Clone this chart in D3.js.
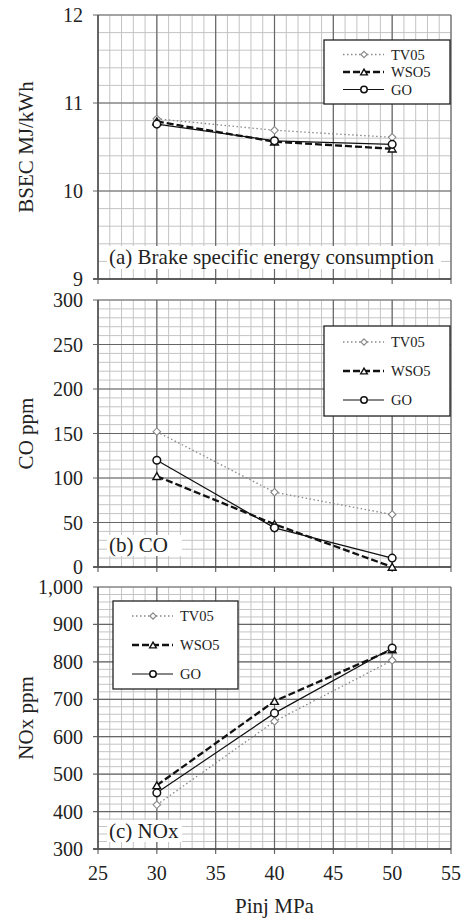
<!DOCTYPE html>
<head>
	<script src="https://d3js.org/d3.v7.min.js"></script>
	<style>
		body { margin: 0; background: #fff; }
	</style>
</head>
<body>
<svg></svg>
<script>
	// data
	var pinj = [30, 40, 50];
	var seriesNames = ["TV05", "WSO5", "GO"];

	var bsecTV05 = [10.82, 10.69, 10.61];
	var bsecWSO5 = [10.79, 10.56, 10.48];
	var bsecGO   = [10.76, 10.57, 10.53];

	var coTV05 = [152, 84, 59];
	var coWSO5 = [102, 48, 0];
	var coGO   = [120, 44, 10];

	var noxTV05 = [418, 641, 804];
	var noxWSO5 = [470, 695, 833];
	var noxGO   = [450, 663, 837];

	var xTicks = [25, 30, 35, 40, 45, 50, 55];
	var bsecTicks = [9, 10, 11, 12];
	var coTicks = [0, 50, 100, 150, 200, 250, 300];
	var noxTicks = [300, 400, 500, 600, 700, 800, 900, 1000];

	var width = 462, height = 921;
	var font = "'Liberation Serif'";
	var svg = d3.select("svg").attr("width", width).attr("height", height);

	var x = d3.scaleLinear().domain([25, 55]).range([98, 451]);

	var styles = {
		TV05: { stroke: "#888", width: 1.3, dash: "1.5,2.5", marker: "diamond" },
		WSO5: { stroke: "#111", width: 2.3, dash: "7,3", marker: "triangle" },
		GO:   { stroke: "#111", width: 1.2, dash: null, marker: "circle" }
	};

	var panels = [
		{ ticks: bsecTicks, minor: 0.2, range: [279, 15], title: "BSEC MJ/kWh", fmt: d3.format("d"),
		  data: [bsecTV05, bsecWSO5, bsecGO], tag: "(a) Brake specific energy consumption",
		  tagBox: [107, 246, 334, 23], legend: [324, 40, 126, 64], rowH: 17.5 },
		{ ticks: coTicks, minor: 10, range: [567, 300], title: "CO ppm", fmt: d3.format("d"),
		  data: [coTV05, coWSO5, coGO], tag: "(b) CO",
		  tagBox: [107, 535, 75, 21], legend: [324, 326, 126, 90], rowH: 29 },
		{ ticks: noxTicks, minor: 20, range: [849, 587], title: "NOx ppm", fmt: d3.format(","),
		  data: [noxTV05, noxWSO5, noxGO], tag: "(c) NOx",
		  tagBox: [107, 820, 75, 22], legend: [113, 601, 125, 88], rowH: 29 }
	];

	function label(g, size) {
		return g.append("text").attr("font-family", font).attr("font-size", size).attr("fill", "#222");
	}

	function marker(g, type, cx, cy, color, k) {
		k = k || 1;
		if (type === "diamond") {
			g.append("path").attr("d", d3.symbol().type(d3.symbolDiamond2).size(36 * k * k)())
				.attr("transform", "translate(" + cx + "," + cy + ")")
				.attr("fill", "#fff").attr("stroke", color).attr("stroke-width", 1.1);
		} else if (type === "triangle") {
			g.append("path").attr("d", d3.symbol().type(d3.symbolTriangle2).size(44 * k * k)())
				.attr("transform", "translate(" + cx + "," + (cy + 1) + ")")
				.attr("fill", "#fff").attr("stroke", color).attr("stroke-width", 1.4);
		} else {
			g.append("circle").attr("cx", cx).attr("cy", cy).attr("r", 3.8 * k)
				.attr("fill", "#fff").attr("stroke", color).attr("stroke-width", 1.5);
		}
	}

	panels.forEach(function(p) {
		var lo = p.ticks[0], hi = p.ticks[p.ticks.length - 1];
		var y = d3.scaleLinear().domain([lo, hi]).range(p.range);
		var g = svg.append("g");

		// minor grid
		var minorY = d3.range(lo, hi + p.minor / 2, p.minor);
		g.selectAll(".mh").data(minorY).enter().append("line")
			.attr("x1", x(25)).attr("x2", x(55))
			.attr("y1", function(d) { return y(d); }).attr("y2", function(d) { return y(d); })
			.attr("stroke", "#c4c4c4").attr("stroke-width", 1);
		g.selectAll(".mv").data(d3.range(25, 56, 1)).enter().append("line")
			.attr("x1", function(d) { return x(d); }).attr("x2", function(d) { return x(d); })
			.attr("y1", p.range[0]).attr("y2", p.range[1])
			.attr("stroke", "#c4c4c4").attr("stroke-width", 1);

		// major grid
		g.selectAll(".Mh").data(p.ticks).enter().append("line")
			.attr("x1", x(25) - 5).attr("x2", x(55))
			.attr("y1", function(d) { return y(d); }).attr("y2", function(d) { return y(d); })
			.attr("stroke", "#666").attr("stroke-width", 1.2);
		g.selectAll(".Mv").data(xTicks).enter().append("line")
			.attr("x1", function(d) { return x(d); }).attr("x2", function(d) { return x(d); })
			.attr("y1", p.range[0] + 5).attr("y2", p.range[1])
			.attr("stroke", "#666").attr("stroke-width", 1.2);

		// axis lines
		g.append("line").attr("x1", x(25) - 5).attr("x2", x(55))
			.attr("y1", p.range[0]).attr("y2", p.range[0]).attr("stroke", "#444").attr("stroke-width", 1.5);
		g.append("line").attr("x1", x(25)).attr("x2", x(25))
			.attr("y1", p.range[0]).attr("y2", p.range[1]).attr("stroke", "#555").attr("stroke-width", 1.5);

		// y tick labels
		p.ticks.forEach(function(t) {
			label(g, 20).attr("x", 83).attr("y", y(t)).attr("dy", "0.35em")
				.attr("text-anchor", "end").text(p.fmt(t));
		});

		// y title
		label(g, 21)
			.attr("transform", "translate(33," + ((p.range[0] + p.range[1]) / 2) + ") rotate(-90)")
			.attr("text-anchor", "middle").text(p.title);

		// panel tag
		g.append("rect").attr("x", p.tagBox[0]).attr("y", p.tagBox[1])
			.attr("width", p.tagBox[2]).attr("height", p.tagBox[3]).attr("fill", "#fff");
		label(g, 21).attr("x", p.tagBox[0] + 2).attr("y", p.tagBox[1] + p.tagBox[3] / 2)
			.attr("dy", "0.33em").text(p.tag);

		// series
		var line = d3.line().x(function(d) { return x(d[0]); }).y(function(d) { return y(d[1]); });
		seriesNames.forEach(function(name, i) {
			var s = styles[name];
			var pts = pinj.map(function(v, j) { return [v, p.data[i][j]]; });
			g.append("path").datum(pts).attr("d", line)
				.attr("fill", "none").attr("stroke", s.stroke).attr("stroke-width", s.width)
				.attr("stroke-dasharray", s.dash);
			pts.forEach(function(d) { marker(g, s.marker, x(d[0]), y(d[1]), s.stroke); });
		});

		// legend
		var L = p.legend;
		g.append("rect").attr("x", L[0]).attr("y", L[1]).attr("width", L[2]).attr("height", L[3])
			.attr("fill", "#fff").attr("stroke", "#222").attr("stroke-width", 1.3);
		var top = L[1] + L[3] / 2 - p.rowH;
		seriesNames.forEach(function(name, i) {
			var s = styles[name];
			var ly = top + i * p.rowH;
			g.append("line").attr("x1", L[0] + 19).attr("x2", L[0] + 60)
				.attr("y1", ly).attr("y2", ly)
				.attr("stroke", s.stroke).attr("stroke-width", s.width).attr("stroke-dasharray", s.dash);
			marker(g, s.marker, L[0] + 40, ly, s.stroke, 0.85);
			label(g, 14.5).attr("x", L[0] + 67).attr("y", ly).attr("dy", "0.35em").text(name);
		});
	});

	// x tick labels and title
	xTicks.forEach(function(t) {
		label(svg, 20).attr("x", x(t)).attr("y", 873).attr("dy", "0.35em")
			.attr("text-anchor", "middle").text(t);
	});
	label(svg, 21).attr("x", x(40)).attr("y", 906).attr("dy", "0.35em")
		.attr("text-anchor", "middle").text("Pinj MPa");
</script>
</body>
</html>
